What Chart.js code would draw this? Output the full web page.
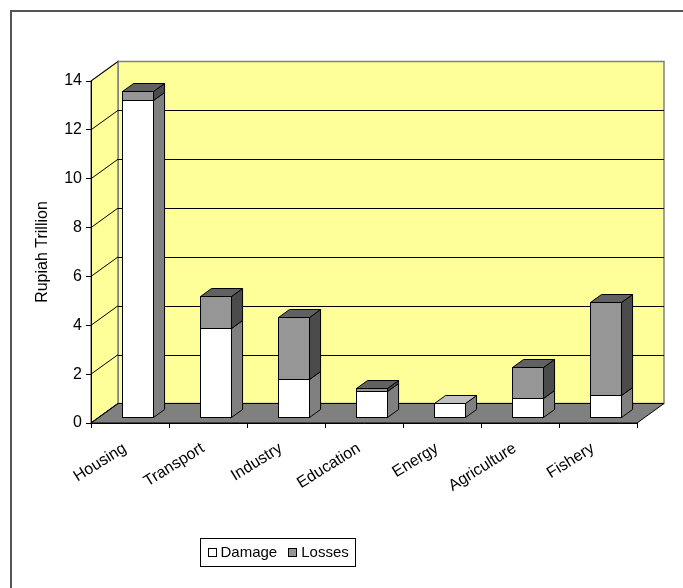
<!DOCTYPE html>
<html><head><meta charset="utf-8">
<script src="https://cdn.jsdelivr.net/npm/chart.js@4/dist/chart.umd.min.js"></script>
<style>html,body{margin:0;padding:0;background:#fff}#wrap{width:683px;height:588px;position:relative}</style>
</head><body><div id="wrap"><canvas id="c" width="683" height="588"></canvas></div>
<script>
// ---- data ----
const categories = ['Housing','Transport','Industry','Education','Energy','Agriculture','Fishery'];
const damage = [13.0, 3.65, 1.56, 1.09, 0.61, 0.79, 0.91];
const losses = [0.37, 1.33, 2.56, 0.10, 0, 1.28, 3.84];
const seriesNames = ['Damage','Losses'];
const yTicks = [0,2,4,6,8,10,12,14];
const yTitle = 'Rupiah Trillion';

// ---- styles ----
const FONT = "'Liberation Sans', Arial, sans-serif";
const FS = 16, FS_LEG = 15;
const DX = 27, DY = -19.5, F0 = 0.28, F1 = 0.69;
const LABEL_ANGLE = 32 * Math.PI / 180;
const faceStyles = [
  {front:'#ffffff', side:'#808080', top:'#c0c0c0'},
  {front:'#969696', side:'#4b4b4b', top:'#616161'}
];

function poly(ctx, pts){ ctx.beginPath(); ctx.moveTo(pts[0][0],pts[0][1]); for(let i=1;i<pts.length;i++) ctx.lineTo(pts[i][0],pts[i][1]); ctx.closePath(); }
function h(v){ return Math.round(v)+0.5; }

const threeD = {
  id:'threeD',
  beforeDraw(chart){
    const ctx=chart.ctx, a=chart.chartArea, ys=chart.scales.y;
    ctx.save();
    ctx.fillStyle='#fff'; ctx.fillRect(0,0,chart.width,chart.height);
    ctx.strokeStyle='#555'; ctx.lineWidth=2; ctx.strokeRect(11,11,chart.width+20,chart.height+20);
    const L=a.left, R=a.right, T=ys.getPixelForValue(yTicks[yTicks.length-1]), B=ys.getPixelForValue(0);
    ctx.lineWidth=1.5; ctx.strokeStyle='#808080'; ctx.fillStyle='#ffff99';
    poly(ctx,[[L+DX,T+DY],[R+DX,T+DY],[R+DX,B+DY],[L+DX,B+DY]]); ctx.fill(); ctx.stroke();
    poly(ctx,[[L,T],[L+DX,T+DY],[L+DX,B+DY],[L,B]]); ctx.fill(); ctx.stroke();
    ctx.fillStyle='#808080'; ctx.strokeStyle='#000'; ctx.lineWidth=1;
    poly(ctx,[[L,B],[L+DX,B+DY],[R+DX,B+DY],[R,B]]); ctx.fill(); ctx.stroke();
    ctx.strokeStyle='#000'; ctx.lineWidth=1;
    yTicks.forEach((v,i)=>{
      const y=ys.getPixelForValue(v);
      ctx.beginPath(); ctx.moveTo(L,y); ctx.lineTo(L+DX,y+DY); ctx.stroke();
      if(i>0 && i<yTicks.length-1){ ctx.beginPath(); ctx.moveTo(L+DX,h(y+DY)); ctx.lineTo(R+DX,h(y+DY)); ctx.stroke(); }
    });
    ctx.restore();
  },
  afterDatasetsDraw(chart){
    const ctx=chart.ctx;
    const metas=[chart.getDatasetMeta(0).data, chart.getDatasetMeta(1).data];
    const ox=F0*DX, oy=F0*DY, ddx=(F1-F0)*DX, ddy=(F1-F0)*DY;
    ctx.save(); ctx.strokeStyle='#000'; ctx.lineWidth=1; ctx.lineJoin='miter';
    for(let i=0;i<categories.length;i++){
      const e0=metas[0][i];
      const x0=Math.round(e0.x-e0.width/2+ox)+0.5, x1=Math.round(e0.x+e0.width/2+ox)+0.5;
      let lastTop=null, lastStyle=null;
      metas.forEach((m,si)=>{
        const e=m[i];
        const bot=Math.round(e.base+oy)+0.5, top=Math.round(e.y+oy)+0.5;
        if(bot-top<0.9) return;
        const st=faceStyles[si];
        ctx.fillStyle=st.front; ctx.fillRect(x0,top,x1-x0,bot-top); ctx.strokeRect(x0,top,x1-x0,bot-top);
        ctx.fillStyle=st.side; poly(ctx,[[x1,bot],[x1+ddx,bot+ddy],[x1+ddx,top+ddy],[x1,top]]); ctx.fill(); ctx.stroke();
        lastTop=top; lastStyle=st;
      });
      if(lastTop!==null){
        ctx.fillStyle=lastStyle.top;
        poly(ctx,[[x0,lastTop],[x0+ddx,lastTop+ddy],[x1+ddx,lastTop+ddy],[x1,lastTop]]); ctx.fill(); ctx.stroke();
      }
    }
    ctx.restore();
  },
  afterDraw(chart){
    const ctx=chart.ctx, xs=chart.scales.x, a=chart.chartArea;
    ctx.save();
    // category labels (rotated)
    ctx.font=FS+'px '+FONT; ctx.fillStyle='#000'; ctx.textAlign='right'; ctx.textBaseline='middle';
    categories.forEach((c,i)=>{
      const x=xs.getPixelForTick(i)-5, y=a.bottom+24;
      ctx.save(); ctx.translate(x,y); ctx.rotate(-LABEL_ANGLE); ctx.fillText(c,0,0); ctx.restore();
    });
    // legend
    ctx.font=FS_LEG+'px '+FONT; ctx.textAlign='left';
    const sq=8, gap=5, sep=11, pad=7;
    let w=pad*2; seriesNames.forEach((n,i)=>{ w+=sq+gap+ctx.measureText(n).width; if(i>0) w+=sep; });
    const left=200, cy=552, bh=28;
    let x=left+0.5; const y0=Math.round(cy-bh/2)+0.5;
    ctx.strokeStyle='#000'; ctx.lineWidth=1; ctx.fillStyle='#fff';
    ctx.fillRect(x,y0,Math.round(w),bh); ctx.strokeRect(x,y0,Math.round(w),bh);
    x+=pad;
    seriesNames.forEach((n,i)=>{
      if(i>0) x+=sep;
      ctx.fillStyle=faceStyles[i].front; ctx.fillRect(Math.round(x)+0.5,Math.round(cy-sq/2)+0.5,sq,sq);
      ctx.strokeRect(Math.round(x)+0.5,Math.round(cy-sq/2)+0.5,sq,sq);
      x+=sq+gap; ctx.fillStyle='#000'; ctx.fillText(n,x,cy+1); x+=ctx.measureText(n).width;
    });
    ctx.restore();
  }
};

new Chart(document.getElementById('c'),{
  type:'bar',
  data:{labels:categories, datasets:[
    {label:seriesNames[0], data:damage, backgroundColor:'rgba(0,0,0,0)', borderWidth:0},
    {label:seriesNames[1], data:losses, backgroundColor:'rgba(0,0,0,0)', borderWidth:0}
  ]},
  options:{
    responsive:false, animation:false, devicePixelRatio:1,
    datasets:{bar:{barPercentage:0.4, categoryPercentage:1}},
    layout:{padding:{left:0, top:81, right:46, bottom:0}},
    plugins:{legend:{display:false}, tooltip:{enabled:false}},
    scales:{
      x:{stacked:true, offset:true,
        grid:{offset:true, drawOnChartArea:false, tickLength:5, color:'#000'},
        border:{color:'#000'},
        ticks:{display:false, autoSkip:false},
        afterFit(s){ s.height=165; }
      },
      y:{stacked:true, min:0, max:14,
        afterBuildTicks(s){ s.ticks=yTicks.map(v=>({value:v})); },
        grid:{drawOnChartArea:false, tickLength:5, color:'#000'},
        border:{color:'#000'},
        ticks:{color:'#000', font:{family:FONT,size:FS}, padding:4},
        title:{display:true, text:yTitle, color:'#000', font:{family:FONT,size:FS}, padding:{top:33,bottom:0}},
        afterFit(s){ s.width=91; }
      }
    }
  },
  plugins:[threeD]
});
</script></body></html>
